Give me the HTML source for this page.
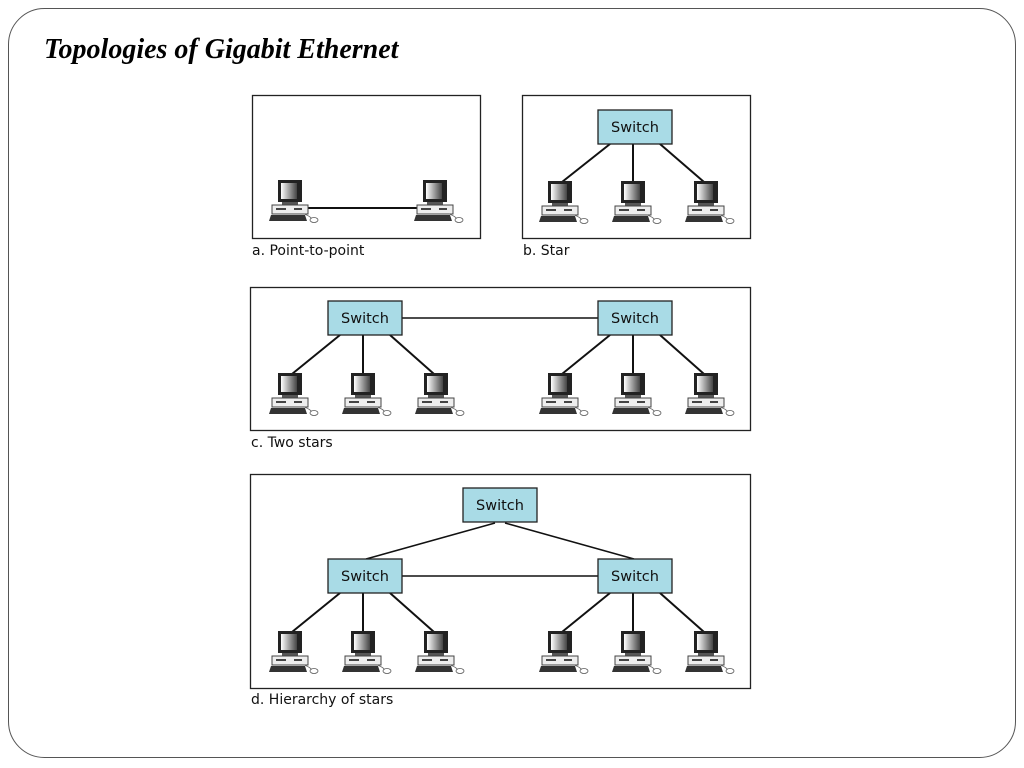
<!DOCTYPE html>
<html><head><meta charset="utf-8"><style>
html,body{margin:0;padding:0;background:#fff;}
svg{display:block;}
</style></head><body>
<svg width="1024" height="768" viewBox="0 0 1024 768" xmlns="http://www.w3.org/2000/svg">
<defs>
<linearGradient id="scr" x1="0" y1="0" x2="1" y2="0">
<stop offset="0" stop-color="#fff"/><stop offset="1" stop-color="#444"/>
</linearGradient>
<g id="pc">
<rect x="-12" y="0" width="24" height="22" fill="#222"/>
<rect x="-9" y="3" width="16" height="16" fill="url(#scr)"/>
<rect x="-8" y="22" width="16" height="3" fill="#555"/>
<rect x="-18" y="25" width="36" height="9" fill="#eee" stroke="#444" stroke-width="1"/>
<rect x="-14" y="28" width="10" height="2" fill="#444"/>
<rect x="4" y="28" width="8" height="2" fill="#444"/>
<path d="M-19 35 L15 35 L17 41 L-21 41 Z" fill="#333"/>
<path d="M14 34 Q20 36 22 39" fill="none" stroke="#666" stroke-width="0.8"/>
<ellipse cx="24" cy="40" rx="4" ry="2.5" fill="#fff" stroke="#555" stroke-width="0.8"/>
</g>
<g id="sw">
<rect x="0" y="0" width="74" height="34" fill="#a9dbe6" stroke="#222" stroke-width="1.3"/>
<text x="37" y="22" text-anchor="middle" font-family="'DejaVu Sans','Liberation Sans',sans-serif" font-size="14.5" fill="#111">Switch</text>
</g>
</defs>
<rect x="8.5" y="8.5" width="1007" height="749" rx="36" fill="#fff" stroke="#555" stroke-width="1"/>
<text x="44" y="58" font-family="'Liberation Serif',serif" font-style="italic" font-weight="bold" font-size="28" fill="#000">Topologies of Gigabit Ethernet</text>

<g stroke="#111" stroke-width="2" fill="none">
<line x1="302" y1="208" x2="422" y2="208"/>
<line x1="610" y1="144" x2="562" y2="182"/><line x1="633" y1="144" x2="633" y2="182"/><line x1="660" y1="144" x2="704" y2="182"/>
<line x1="402" y1="318" x2="598" y2="318" stroke-width="1.5"/>
<line x1="340" y1="335" x2="292" y2="374"/><line x1="363" y1="335" x2="363" y2="374"/><line x1="390" y1="335" x2="434" y2="374"/>
<line x1="610" y1="335" x2="562" y2="374"/><line x1="633" y1="335" x2="633" y2="374"/><line x1="660" y1="335" x2="704" y2="374"/>
<line x1="495" y1="523" x2="366" y2="559" stroke-width="1.5"/><line x1="505" y1="523" x2="634" y2="559" stroke-width="1.5"/>
<line x1="402" y1="576" x2="598" y2="576" stroke-width="1.5"/>
<line x1="340" y1="593" x2="292" y2="632"/><line x1="363" y1="593" x2="363" y2="632"/><line x1="390" y1="593" x2="434" y2="632"/>
<line x1="610" y1="593" x2="562" y2="632"/><line x1="633" y1="593" x2="633" y2="632"/><line x1="660" y1="593" x2="704" y2="632"/>
</g>

<g fill="none" stroke="#222" stroke-width="1.3">
<rect x="252.5" y="95.5" width="228" height="143"/>
<rect x="522.5" y="95.5" width="228" height="143"/>
<rect x="250.5" y="287.5" width="500" height="143"/>
<rect x="250.5" y="474.5" width="500" height="214"/>
</g>

<use href="#pc" x="290" y="180"/><use href="#pc" x="435" y="180"/>
<use href="#sw" x="598" y="110"/>
<use href="#pc" x="560" y="181"/><use href="#pc" x="633" y="181"/><use href="#pc" x="706" y="181"/>

<use href="#sw" x="328" y="301"/><use href="#sw" x="598" y="301"/>
<use href="#pc" x="290" y="373"/><use href="#pc" x="363" y="373"/><use href="#pc" x="436" y="373"/>
<use href="#pc" x="560" y="373"/><use href="#pc" x="633" y="373"/><use href="#pc" x="706" y="373"/>

<use href="#sw" x="463" y="488"/>
<use href="#sw" x="328" y="559"/><use href="#sw" x="598" y="559"/>
<use href="#pc" x="290" y="631"/><use href="#pc" x="363" y="631"/><use href="#pc" x="436" y="631"/>
<use href="#pc" x="560" y="631"/><use href="#pc" x="633" y="631"/><use href="#pc" x="706" y="631"/>

<g font-family="'DejaVu Sans','Liberation Sans',sans-serif" font-size="14" fill="#111">
<text x="252" y="255">a. Point-to-point</text>
<text x="523" y="255">b. Star</text>
<text x="251" y="447">c. Two stars</text>
<text x="251" y="704">d. Hierarchy of stars</text>
</g>
</svg>
</body></html>
